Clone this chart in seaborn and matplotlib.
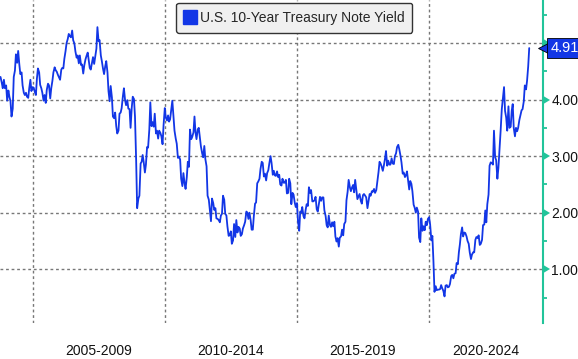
import numpy as np
import pandas as pd
import seaborn as sns
import matplotlib.pyplot as plt
from matplotlib.lines import Line2D

# rendimiento del bono a 10 años, valores el día 1 y 15 de cada mes
y2003 = [4.40, 4.30, 4.20, 4.35, 4.20]
y2004 = [4.25, 3.98, 4.16, 4.05, 3.97, 3.70, 3.84, 4.40, 4.51, 4.80, 4.65, 4.86,
         4.62, 4.45, 4.48, 4.25, 4.12, 4.08, 4.12, 4.05, 4.03, 4.20, 4.35, 4.15]
y2005 = [4.22, 4.21, 4.13, 4.08, 4.37, 4.55, 4.48, 4.26, 4.20, 4.12, 3.98, 4.08,
         3.94, 4.17, 4.28, 4.25, 4.02, 4.20, 4.33, 4.48, 4.57, 4.52, 4.49, 4.44]
y2006 = [4.39, 4.35, 4.53, 4.56, 4.55, 4.72, 4.86, 5.00, 5.07, 5.16, 5.12, 5.10,
         5.22, 5.05, 4.99, 4.85, 4.74, 4.78, 4.64, 4.78, 4.61, 4.62, 4.46, 4.60]
y2007 = [4.71, 4.77, 4.83, 4.70, 4.56, 4.53, 4.65, 4.75, 4.63, 4.75, 4.90, 5.28,
         5.03, 5.05, 4.78, 4.68, 4.54, 4.45, 4.59, 4.68, 4.48, 4.15, 3.97, 4.24]
y2008 = [4.04, 3.70, 3.67, 3.77, 3.53, 3.40, 3.45, 3.75, 3.77, 3.85, 4.06, 4.20,
         3.99, 3.90, 3.99, 3.84, 3.83, 3.50, 3.85, 4.05, 4.01, 3.70, 2.93, 2.08]
y2009 = [2.25, 2.30, 2.87, 2.90, 3.02, 2.90, 2.71, 2.85, 3.16, 3.15, 3.47, 3.95,
         3.53, 3.60, 3.52, 3.75, 3.40, 3.45, 3.31, 3.45, 3.41, 3.35, 3.21, 3.55]
y2010 = [3.85, 3.68, 3.63, 3.72, 3.61, 3.65, 3.84, 3.98, 3.69, 3.45, 3.31, 3.22,
         2.97, 2.99, 2.94, 2.60, 2.47, 2.70, 2.52, 2.42, 2.63, 2.90, 2.81, 3.47]
y2011 = [3.30, 3.34, 3.42, 3.70, 3.42, 3.30, 3.47, 3.50, 3.32, 3.17, 3.05, 2.98,
         3.18, 2.95, 2.82, 2.30, 2.23, 2.05, 1.85, 2.25, 2.17, 2.05, 2.08, 1.90]
y2012 = [1.89, 1.87, 1.83, 1.95, 1.98, 2.30, 2.23, 1.98, 1.95, 1.76, 1.59, 1.60,
         1.67, 1.45, 1.51, 1.80, 1.57, 1.87, 1.65, 1.75, 1.72, 1.59, 1.62, 1.72]
y2013 = [1.78, 1.84, 2.02, 2.00, 1.89, 2.00, 1.87, 1.70, 1.70, 1.94, 2.16, 2.18,
         2.52, 2.55, 2.60, 2.77, 2.90, 2.88, 2.64, 2.69, 2.57, 2.70, 2.75, 2.87]
y2014 = [3.00, 2.88, 2.67, 2.74, 2.66, 2.65, 2.73, 2.63, 2.67, 2.50, 2.48, 2.60,
         2.53, 2.53, 2.58, 2.34, 2.35, 2.60, 2.52, 2.15, 2.35, 2.32, 2.18, 2.10]
y2015 = [2.17, 1.85, 1.68, 2.02, 2.00, 2.10, 1.94, 1.90, 2.05, 2.15, 2.12, 2.45,
         2.35, 2.40, 2.20, 2.20, 2.22, 2.28, 2.06, 2.02, 2.16, 2.28, 2.21, 2.27]
y2016 = [2.27, 2.04, 1.94, 1.78, 1.74, 1.95, 1.78, 1.75, 1.83, 1.76, 1.84, 1.58,
         1.49, 1.55, 1.40, 1.56, 1.58, 1.70, 1.60, 1.80, 1.84, 2.22, 2.37, 2.58]
y2017 = [2.45, 2.38, 2.45, 2.49, 2.36, 2.58, 2.40, 2.24, 2.29, 2.33, 2.21, 2.16,
         2.31, 2.33, 2.30, 2.27, 2.08, 2.20, 2.33, 2.30, 2.38, 2.37, 2.42, 2.35]
y2018 = [2.40, 2.55, 2.72, 2.90, 2.87, 2.82, 2.74, 2.83, 2.95, 3.09, 2.83, 2.92,
         2.85, 2.85, 2.96, 2.87, 2.86, 3.00, 3.05, 3.16, 3.20, 3.12, 3.01, 2.89]
y2019 = [2.69, 2.71, 2.63, 2.66, 2.73, 2.59, 2.41, 2.56, 2.51, 2.38, 2.14, 2.09,
         2.00, 2.09, 2.02, 1.56, 1.48, 1.90, 1.68, 1.76, 1.69, 1.84, 1.78, 1.89]
y2020 = [1.92, 1.79, 1.51, 1.59, 1.13, 0.60, 0.70, 0.63, 0.64, 0.64, 0.65, 0.72,
         0.66, 0.62, 0.52, 0.71, 0.72, 0.68, 0.69, 0.74, 0.88, 0.90, 0.84, 0.92]
y2021 = [0.93, 1.11, 1.09, 1.30, 1.44, 1.62, 1.74, 1.58, 1.65, 1.64, 1.58, 1.50,
         1.45, 1.30, 1.18, 1.26, 1.30, 1.30, 1.52, 1.57, 1.55, 1.60, 1.43, 1.45]
y2022 = [1.52, 1.78, 1.79, 2.04, 1.83, 2.15, 2.32, 2.83, 2.89, 2.88, 2.85, 3.45,
         2.98, 2.93, 2.60, 2.79, 3.15, 3.45, 3.83, 4.00, 4.22, 3.80, 3.68, 3.45]
y2023 = [3.88, 3.50, 3.52, 3.80, 3.92, 3.50, 3.35, 3.50, 3.44, 3.50, 3.64, 3.72,
         3.81, 3.83, 3.97, 4.25, 4.18, 4.33, 4.59, 4.91]

valores = (y2003 + y2004 + y2005 + y2006 + y2007 + y2008 + y2009 + y2010 + y2011 +
           y2012 + y2013 + y2014 + y2015 + y2016 + y2017 + y2018 + y2019 + y2020 +
           y2021 + y2022 + y2023)
fechas = pd.date_range("2003-10-15", periods=len(valores), freq="SMS")
df = pd.DataFrame({"fecha": fechas, "rendimiento": valores})

periodos = ["2005-2009", "2010-2014", "2015-2019", "2020-2024"]
pos_periodos = pd.to_datetime(["2007-07-01", "2012-07-01", "2017-07-01", "2022-02-25"])
cortes = pd.to_datetime(["2005-01-01", "2010-01-01", "2015-01-01", "2020-01-01"])
ticks_y = [1, 2, 3, 4, 5]
etiquetas_y = ["1.00", "2.00", "3.00", "4.00", ""]
ultimo = valores[-1]

azul = "#1236e6"
verde = "#22c49a"
gris = "#777777"

sns.set_style("white")
plt.rcParams["font.family"] = ["Liberation Sans", "DejaVu Sans"]

fig = plt.figure(figsize=(5.78, 3.59), dpi=100)
ax = fig.add_axes([0.0, 0.1003, 0.9394, 0.8997])

sns.lineplot(data=df, x="fecha", y="rendimiento", color=azul, linewidth=1.3, ax=ax)

ax.set_xlim(pd.Timestamp("2003-10-08"), pd.Timestamp("2024-04-22"))
ax.set_ylim(0.05, 5.76)
ax.set_xlabel("")
ax.set_ylabel("")

# eje x: cortes con rejilla, etiquetas en el medio del periodo
ax.set_xticks(cortes)
ax.set_xticklabels([])
ax.set_xticks(pos_periodos, minor=True)
ax.set_xticklabels(periodos, minor=True)
ax.tick_params(axis="x", which="both", length=0, labelsize=10, pad=15, colors="#111111")

# eje y a la derecha
ax.yaxis.tick_right()
ax.set_yticks(ticks_y)
ax.set_yticklabels(etiquetas_y)
ax.set_yticks(np.arange(0.5, 5.76, 1.0), minor=True)
ax.tick_params(axis="y", which="major", length=5, width=1.5, color=verde,
               labelsize=10, pad=1, labelcolor="#111111")
ax.tick_params(axis="y", which="minor", length=3, width=1.3, color=verde)
for t in ax.yaxis.get_major_ticks():
    t.tick2line.set_marker(9)

ax.grid(True, which="major", axis="both", color=gris, linestyle=(0, (2, 2)), linewidth=1)
for lado in ["left", "top", "bottom"]:
    ax.spines[lado].set_visible(False)
ax.spines["right"].set_color(verde)
ax.spines["right"].set_linewidth(1.5)

# leyenda
marca = Line2D([], [], marker="s", linestyle="none", markersize=10,
               markerfacecolor=azul, markeredgecolor=azul)
leg = ax.legend([marca], ["U.S. 10-Year Treasury Note Yield"], loc="upper left",
                bbox_to_anchor=(0.324, 0.992), frameon=True, fancybox=True,
                facecolor="#f0f0f0", edgecolor="#333333", framealpha=1,
                fontsize=10, handlelength=0.8, handletextpad=0.3, borderpad=0.6,
                borderaxespad=0)
leg.get_frame().set_linewidth(1)

# etiqueta del último valor
ax.plot([1.003], [ultimo], marker="<", markersize=10, color=azul, markeredgecolor="black",
        markeredgewidth=0.6, transform=ax.get_yaxis_transform(), clip_on=False, zorder=5)
ax.text(1.014, ultimo, f"{ultimo:.2f}", transform=ax.get_yaxis_transform(),
        color="white", fontsize=10.5, va="center", ha="left", zorder=6,
        bbox=dict(boxstyle="square,pad=0.22", facecolor=azul, edgecolor="black", linewidth=0.6))

plt.savefig("out.png", dpi=100)
